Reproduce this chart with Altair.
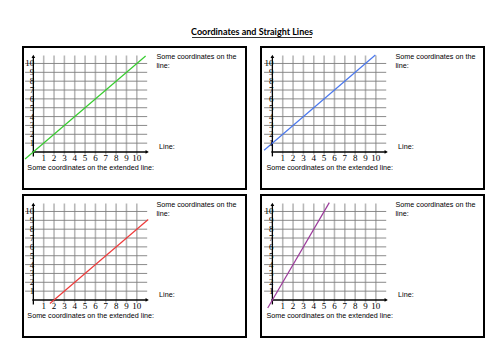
import altair as alt
import pandas as pd

# ---- data ----
title_text = "Coordinates and Straight Lines"
tick_values = [1, 2, 3, 4, 5, 6, 7, 8, 9, 10]
tick_labels = ["1", "2", "3", "4", "5", "6", "7", "8", "9", "10"]

# line end points (x0, y0, x1, y1)
line_x0 = [-0.8, -0.8, 1.6, -0.45]
line_y0 = [-0.8, 0.2, -0.4, -0.9]
line_x1 = [10.85, 9.95, 11.1, 5.5]
line_y1 = [10.85, 10.95, 9.1, 11.0]
line_colors = ["#36cc2e", "#4a78ee", "#ee3a3a", "#9b3a9b"]

text_top1 = "Some coordinates on the"
text_top2 = "line:"
text_line = "Line:"
text_bottom = "Some coordinates on the extended line:"

PANEL_W, PANEL_H = 223, 142
SERIF = "Liberation Serif"
SANS = "Liberation Sans"


def panel(i, xlo):
    xs = alt.Scale(domain=[xlo, xlo + 21.55], nice=False, zero=False)
    ys = alt.Scale(domain=[-4.18, 11.86], nice=False, zero=False)

    vg = pd.DataFrame({"x": tick_values, "y0": -0.3, "y1": 10.9})
    hg = pd.DataFrame({"y": tick_values, "x0": -0.8, "x1": 11.0})
    ax = pd.DataFrame({"x": [-0.1, 0], "y": [0, -0.5], "x2": [11.0, 0], "y2": [0, 10.8]})
    arr_r = pd.DataFrame({"x": [11.0], "y": [0]})
    arr_u = pd.DataFrame({"x": [0], "y": [10.8]})
    lab = pd.DataFrame({"v": tick_values, "t": tick_labels, "z": 0})
    ln = pd.DataFrame({"x": [line_x0[i], line_x1[i]], "y": [line_y0[i], line_y1[i]]})
    txt = pd.DataFrame({
        "x": [11.9, 11.9, 12.15, -0.58],
        "y": [10.7, 9.75, 0.6, -1.8],
        "t": [text_top1, text_top2, text_line, text_bottom],
    })

    vgrid = alt.Chart(vg).mark_rule(color="#b8b8b8", strokeWidth=1.6).encode(
        x=alt.X("x:Q", scale=xs, axis=None),
        y=alt.Y("y0:Q", scale=ys, axis=None),
        y2="y1:Q",
    )
    hgrid = alt.Chart(hg).mark_rule(color="#7d7d7d", strokeWidth=0.9).encode(
        x=alt.X("x0:Q", scale=xs, axis=None),
        x2="x1:Q",
        y=alt.Y("y:Q", scale=ys, axis=None),
    )
    axes = alt.Chart(ax).mark_rule(color="black", strokeWidth=1.3).encode(
        x=alt.X("x:Q", scale=xs, axis=None),
        x2="x2:Q",
        y=alt.Y("y:Q", scale=ys, axis=None),
        y2="y2:Q",
    )
    ar = alt.Chart(arr_r).mark_point(shape="triangle-right", filled=True, size=14,
                                     color="black", opacity=1).encode(
        x=alt.X("x:Q", scale=xs, axis=None), y=alt.Y("y:Q", scale=ys, axis=None))
    au = alt.Chart(arr_u).mark_point(shape="triangle-up", filled=True, size=14,
                                     color="black", opacity=1).encode(
        x=alt.X("x:Q", scale=xs, axis=None), y=alt.Y("y:Q", scale=ys, axis=None))
    xl = alt.Chart(lab).mark_text(font=SERIF, fontSize=9, baseline="middle",
                                  color="black", dy=6).encode(
        x=alt.X("v:Q", scale=xs, axis=None), y=alt.Y("z:Q", scale=ys, axis=None), text="t:N")
    yl = alt.Chart(lab).mark_text(font=SERIF, fontSize=9, baseline="middle", align="right",
                                  color="black", dx=1).encode(
        x=alt.X("z:Q", scale=xs, axis=None), y=alt.Y("v:Q", scale=ys, axis=None), text="t:N")
    line = alt.Chart(ln).mark_line(color=line_colors[i], strokeWidth=1.2).encode(
        x=alt.X("x:Q", scale=xs, axis=None), y=alt.Y("y:Q", scale=ys, axis=None))
    texts = alt.Chart(txt).mark_text(font=SANS, fontSize=7.2, align="left", baseline="middle",
                                     color="black").encode(
        x=alt.X("x:Q", scale=xs, axis=None), y=alt.Y("y:Q", scale=ys, axis=None), text="t:N")

    return alt.layer(vgrid, hgrid, axes, ar, au, line, xl, yl, texts).properties(
        width=PANEL_W, height=PANEL_H)


header_df = pd.DataFrame({"t": [title_text]})
header_text = alt.Chart(header_df).mark_text(
    font="Lato", fontWeight="bold", fontSize=9, baseline="middle", color="black"
).encode(x=alt.value(229), y=alt.value(31), text="t:N")
underline = alt.Chart(header_df).mark_rule(color="black", strokeWidth=0.8).encode(
    x=alt.value(169), x2=alt.value(289), y=alt.value(36.5))
header = alt.layer(header_text, underline).properties(
    width=459, height=40, view=alt.ViewBackground(stroke="transparent"))

row1 = alt.hconcat(panel(0, -1.0), panel(1, -1.1), spacing=13)
row2 = alt.hconcat(panel(2, -1.0), panel(3, -1.1), spacing=13)

chart = alt.vconcat(header, row1, row2, spacing=4).properties(
    padding={"left": 21, "top": 0, "right": 0, "bottom": 0},
    background="white",
).configure_view(stroke="black", strokeWidth=2)

chart.save("out.html", embed_options={"renderer": "svg", "actions": False})
